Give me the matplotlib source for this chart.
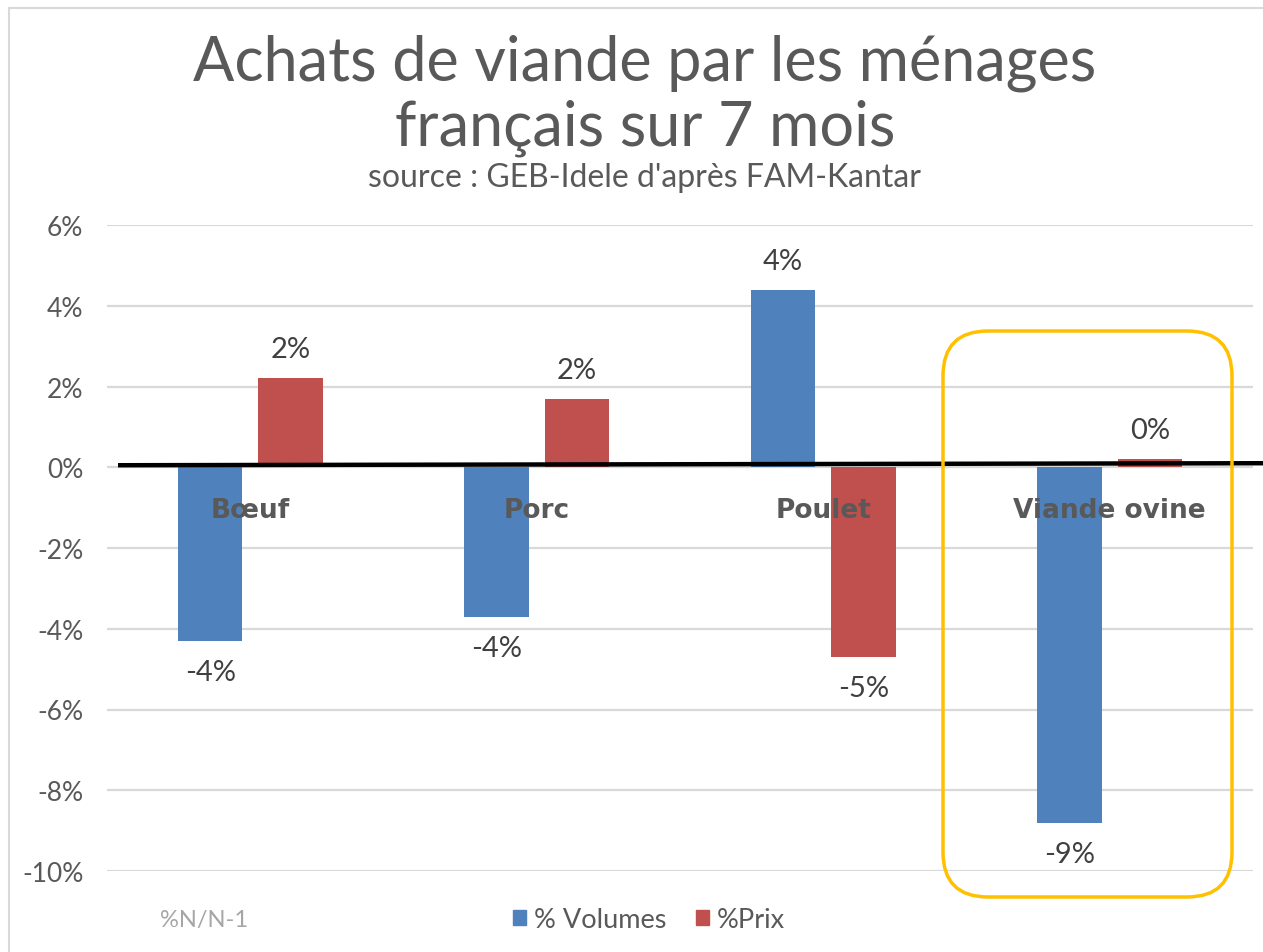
import numpy as np
import matplotlib
matplotlib.use("Agg")
import matplotlib.pyplot as plt
from matplotlib.patches import FancyBboxPatch, Patch, Rectangle

plt.rcParams['font.family'] = ['Lato', 'DejaVu Sans']

# data (% N/N-1)
categories = ['Bœuf', 'Porc', 'Poulet', 'Viande ovine']
volumes = [-4.3, -3.7, 4.4, -8.8]
prix = [2.2, 1.7, -4.7, 0.2]
yticks = [-10, -8, -6, -4, -2, 0, 2, 4, 6]

blue = '#4F81BD'
red = '#C0504D'
grey = '#595959'

fig = plt.figure(figsize=(12.63, 9.53), dpi=100)
ax = fig.add_axes([107/1263, 81/953, 1146/1263, 646/953])

x = np.arange(len(categories))
w = 0.225
ax.bar(x - 0.14, volumes, w, color=blue, zorder=3)
ax.bar(x + 0.14, prix, w, color=red, zorder=3)

# data labels
for xs, vals in ((x - 0.14, volumes), (x + 0.14, prix)):
    for xi, v in zip(xs, vals):
        off = 0.72 if v >= 0 else -0.77
        ax.text(xi, v + off, '%d%%' % round(v), ha='center', va='center',
                fontsize=21, color='#404040', zorder=4)

# category labels just below zero line
for xi, c in zip(x, categories):
    ax.text(xi, -1.05, c, ha='center', va='center', fontsize=19,
            fontweight='bold', color=grey, zorder=5, family='DejaVu Sans')

ax.set_xlim(-0.5, 3.5)
ax.set_ylim(-10, 6)
ax.set_yticks(yticks)
ax.set_yticklabels(['%d%%' % t for t in yticks], fontsize=19, color=grey)
ax.set_xticks([])
ax.tick_params(axis='y', length=0, pad=17)
ax.grid(axis='y', color='#d9d9d9', linewidth=1.6, zorder=0)
for s in ax.spines.values():
    s.set_visible(False)

# thick zero line (runs past the right edge)
ax.plot([11/1146, 1.01], [0.05, 0.1], color='black', linewidth=3.2,
        transform=ax.get_yaxis_transform(), clip_on=False, zorder=4,
        solid_capstyle='butt')

# titles
fig.text(645/1263, 1 - 96/953, 'Achats de viande par les ménages\nfrançais sur 7 mois',
         ha='center', va='center', fontsize=44, color=grey, linespacing=1.17)
fig.text(644/1263, 1 - 178/953, "source : GEB-Idele d'après FAM-Kantar",
         ha='center', va='center', fontsize=23, color=grey)

# highlight box around Viande ovine
box = FancyBboxPatch((9.43, 0.55), 2.89, 5.66,
                     boxstyle='round,pad=0,rounding_size=0.45',
                     transform=fig.dpi_scale_trans, fill=False,
                     edgecolor='#FFC000', linewidth=2.5, zorder=10)
fig.patches.append(box)

# outer frame
fig.patches.append(Rectangle((9/1263, -0.1), 1.2, 1 - 9/953 + 0.1,
                             transform=fig.transFigure, fill=False,
                             edgecolor='#d9d9d9', linewidth=1.5))

# legend and note
handles = [Patch(color=blue, label='% Volumes'), Patch(color=red, label='%Prix')]
fig.legend(handles=handles, loc='center', bbox_to_anchor=(649/1263, 1 - 921/953),
           ncol=2, frameon=False, fontsize=19.5, labelcolor=grey,
           handlelength=0.47, handleheight=0.47, handletextpad=0.3, columnspacing=1.1)
fig.text(160/1263, 1 - 921/953, '%N/N-1', ha='left', va='center',
         fontsize=17, color='#a6a6a6')

fig.savefig('out.png', dpi=100)
